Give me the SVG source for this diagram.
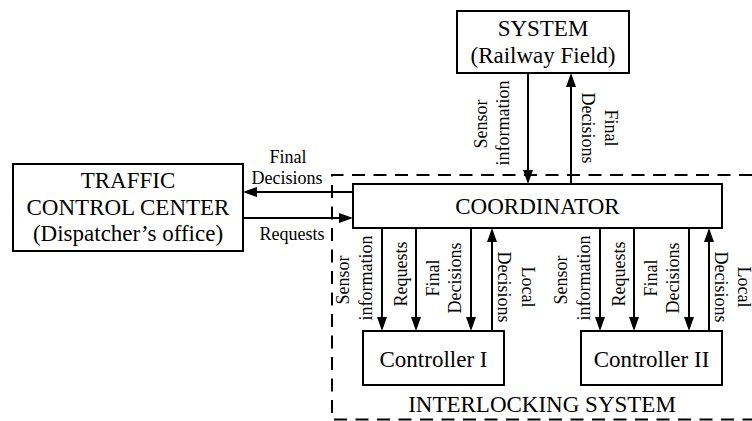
<svg xmlns="http://www.w3.org/2000/svg" width="752" height="421" viewBox="0 0 752 421">
  <style>
    .box { fill: #fff; stroke: #000; stroke-width: 2; }
    .frame { fill: none; stroke: #000; stroke-width: 2; stroke-dasharray: 13 8.5; }
    .link { stroke: #000; stroke-width: 2; fill: none; }
    .big { font-family: "Liberation Serif", "Times New Roman", serif; font-size: 23px; fill: #000; text-anchor: middle; }
    .small { font-family: "Liberation Serif", "Times New Roman", serif; font-size: 18px; fill: #000; text-anchor: middle; }
  </style>
  <defs>
    <marker id="arrow" markerUnits="userSpaceOnUse" markerWidth="14" markerHeight="10" refX="10" refY="5" orient="auto" overflow="visible">
      <path d="M0,0 L14,5 L0,10 z" fill="#000"/>
    </marker>
  </defs>

  <rect width="752" height="421" fill="#fff"/>

  <!-- interlocking system boundary (open to the right) -->
  <g id="interlocking-system">
    <path class="frame" d="M752,175 H332 V419.5 H752"/>
    <text class="big" x="542" y="412">INTERLOCKING SYSTEM</text>
  </g>

  <!-- connectors -->
  <g id="connectors">
    <!-- system <-> coordinator -->
    <line class="link" x1="528" y1="73" x2="528" y2="180" marker-end="url(#arrow)"/>
    <line class="link" x1="571" y1="184" x2="571" y2="77" marker-end="url(#arrow)"/>
    <!-- coordinator <-> traffic control center -->
    <line class="link" x1="353" y1="192" x2="247" y2="192" marker-end="url(#arrow)"/>
    <line class="link" x1="243" y1="218" x2="349" y2="218" marker-end="url(#arrow)"/>
    <!-- coordinator <-> controller I -->
    <line class="link" x1="382" y1="228" x2="382" y2="327" marker-end="url(#arrow)"/>
    <line class="link" x1="416" y1="228" x2="416" y2="327" marker-end="url(#arrow)"/>
    <line class="link" x1="471" y1="228" x2="471" y2="327" marker-end="url(#arrow)"/>
    <line class="link" x1="492" y1="331" x2="492" y2="232" marker-end="url(#arrow)"/>
    <!-- coordinator <-> controller II -->
    <line class="link" x1="600" y1="228" x2="600" y2="327" marker-end="url(#arrow)"/>
    <line class="link" x1="634" y1="228" x2="634" y2="327" marker-end="url(#arrow)"/>
    <line class="link" x1="689" y1="228" x2="689" y2="327" marker-end="url(#arrow)"/>
    <line class="link" x1="709" y1="331" x2="709" y2="232" marker-end="url(#arrow)"/>

    <!-- connector labels -->
    <text class="small" transform="translate(487,124) rotate(-90)">Sensor</text>
    <text class="small" transform="translate(509,123) rotate(-90)">information</text>
    <text class="small" transform="translate(605,128) rotate(90)">Final</text>
    <text class="small" transform="translate(582,128) rotate(90)">Decisions</text>

    <text class="small" x="288" y="163">Final</text>
    <text class="small" x="287" y="184">Decisions</text>
    <text class="small" x="292" y="240">Requests</text>

    <text class="small" transform="translate(349,280) rotate(-90)">Sensor</text>
    <text class="small" transform="translate(372,278) rotate(-90)">information</text>
    <text class="small" transform="translate(407,274) rotate(-90)">Requests</text>
    <text class="small" transform="translate(439,278) rotate(-90)">Final</text>
    <text class="small" transform="translate(461,278) rotate(-90)">Decisions</text>
    <text class="small" transform="translate(522,287) rotate(90)">Local</text>
    <text class="small" transform="translate(498,287) rotate(90)">Decisions</text>

    <text class="small" transform="translate(567,280) rotate(-90)">Sensor</text>
    <text class="small" transform="translate(590,278) rotate(-90)">information</text>
    <text class="small" transform="translate(625,274) rotate(-90)">Requests</text>
    <text class="small" transform="translate(657,278) rotate(-90)">Final</text>
    <text class="small" transform="translate(679,278) rotate(-90)">Decisions</text>
    <text class="small" transform="translate(738,287) rotate(90)">Local</text>
    <text class="small" transform="translate(715,287) rotate(90)">Decisions</text>
  </g>

  <g id="system">
    <rect class="box" x="457" y="11" width="172" height="62"/>
    <text class="big" x="543" y="36">SYSTEM</text>
    <text class="big" x="543" y="63">(Railway Field)</text>
  </g>

  <g id="traffic-control-center">
    <rect class="box" x="13" y="164" width="230" height="87"/>
    <text class="big" x="128" y="188">TRAFFIC</text>
    <text class="big" x="128" y="215">CONTROL CENTER</text>
    <text class="big" x="128" y="241">(Dispatcher’s office)</text>
  </g>

  <g id="coordinator">
    <rect class="box" x="353" y="184" width="369" height="44"/>
    <text class="big" x="537.5" y="214">COORDINATOR</text>
  </g>

  <g id="controller-1">
    <rect class="box" x="363" y="331" width="141" height="54"/>
    <text class="big" x="433.5" y="367">Controller I</text>
  </g>

  <g id="controller-2">
    <rect class="box" x="581" y="331" width="141" height="54"/>
    <text class="big" x="651.5" y="367">Controller II</text>
  </g>
</svg>
